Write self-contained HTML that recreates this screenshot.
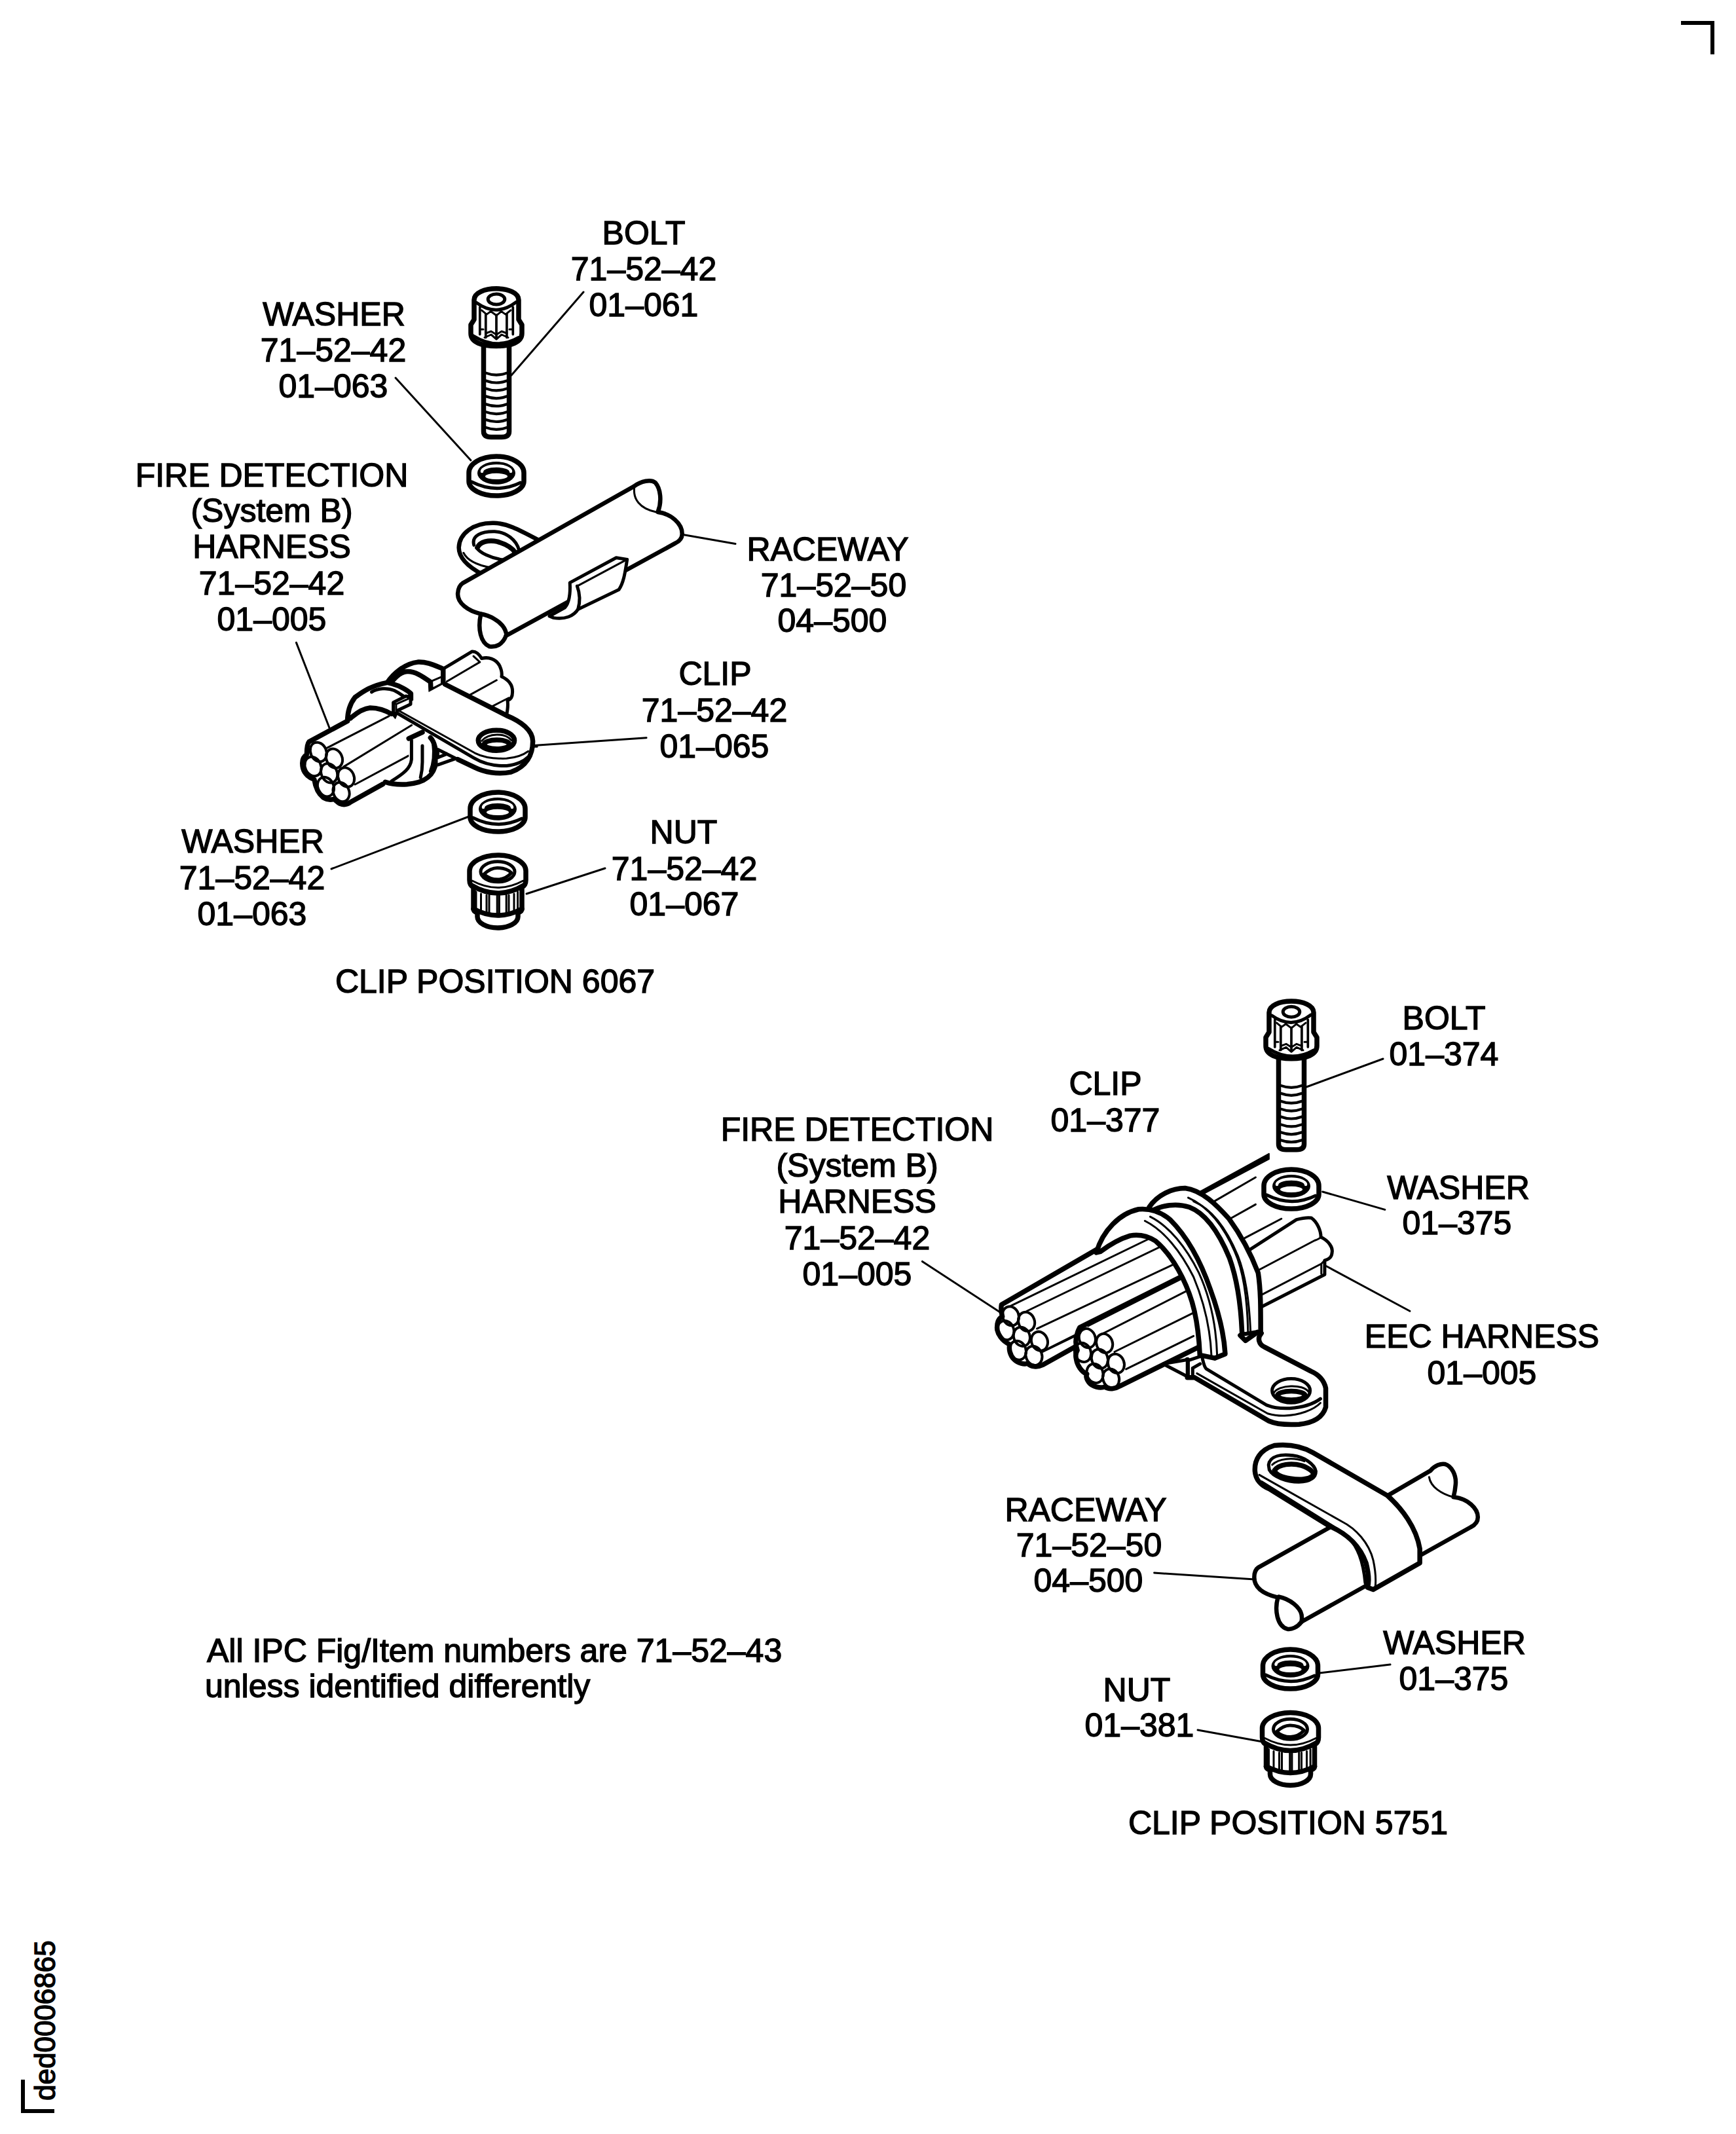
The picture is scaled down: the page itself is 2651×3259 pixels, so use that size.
<!DOCTYPE html>
<html>
<head>
<meta charset="utf-8">
<style>
html,body{margin:0;padding:0;background:#fff;}
body{width:2651px;height:3259px;overflow:hidden;}
svg{display:block;}
text{font-family:"Liberation Sans",sans-serif;font-size:50px;fill:#000;stroke:#000;stroke-width:1.4px;}
.c{text-anchor:middle;}
.d path,.d ellipse,.d line,.d polyline{fill:none;stroke:#000;stroke-linejoin:round;stroke-linecap:round;vector-effect:non-scaling-stroke;stroke-width:4px;}
.d .f{fill:#fff;}
.d .b{fill:#000;}
.d .t{stroke-width:3px;}
.d .m{stroke-width:5px;}
.d .h{stroke-width:7.5px;}
.d .r{stroke-width:6.5px;}
</style>
</head>
<body>
<svg class="d" width="2651" height="3259" viewBox="0 0 2651 3259">
<defs>
<g id="bolt">
 <path class="f h" d="M-19.5 88 V222 Q-19.5 230.5 -8 230.5 H8 Q19.5 230.5 19.5 222 V88"/>
 <path style="stroke-width:4.2px" d="M-16 132.6 Q0 138.6 16 132.6 M-16 144.5 Q0 150.5 16 144.5 M-16 156.4 Q0 162.4 16 156.4 M-16 168.3 Q0 174.3 16 168.3 M-16 180.2 Q0 186.2 16 180.2 M-16 192.1 Q0 198.1 16 192.1 M-16 204 Q0 210 16 204 M-16 215.9 Q0 221.9 16 215.9"/>
 <path class="f h" d="M-34 51 V21 C-34 10 -18 3.8 0 3.8 C18 3.8 34 10 34 21 V51 L39 59 V72 C39 86 22 91.5 0 91.5 C-22 91.5 -39 86 -39 72 V59 Z"/>
 <path class="m" d="M-30 25.5 Q0 47.4 30 24.5"/>
 <ellipse class="m" cx="0" cy="20" rx="12.8" ry="8"/>
 <path style="stroke-width:3.7px" d="M-25.2 32 V73.6 M25.3 32 V73.6 M-16.2 42.5 V78.3 M15.9 42.5 V78.3 M0 44 V78"/>
 <path class="t" d="M-22.4 36.8 L-14.9 43.1 L-8.5 38.5 L0 44.8 L7.6 38.5 L14 43.1 L22 36.8"/>
 <path class="t" d="M-16 72 L-8 69 L0 74 L8 69 L16 72 M-18 78.5 L-8 74 L0 81 L8 74 L18 78.5"/>
 <path class="t" d="M-25 66 H-20 M25 66 H20"/>
 <path class="m" d="M-35 76 Q0 98 34 78.5"/>
</g>
<g id="wsh">
 <path class="f h" d="M-42 29 A42 25 0 0 1 42 29 V42 A42 22 0 0 1 -42 42 Z"/>
 <ellipse class="b" style="stroke:none" cx="0" cy="29.4" rx="29" ry="17.4"/>
 <path style="stroke:#fff;stroke-width:4.5px" d="M-22 27 A22 8.5 0 0 1 22 27"/>
 <ellipse style="fill:#fff;stroke:none" cx="0" cy="34.4" rx="17" ry="4.6"/>
 <path class="m" d="M-38 42.8 Q0 62 37 44"/>
</g>
<g id="nut">
 <path class="f h" d="M-43 28 A43 24 0 0 1 43 28 V42 Q43 50 37 53 V86 Q37 90 31 92 V98 A31 17 0 0 1 -31 98 V92 Q-37 90 -37 86 V53 Q-43 50 -43 42 Z"/>
 <ellipse class="m" cx="0" cy="29.3" rx="26" ry="15.5"/>
 <path class="m" d="M-21 33 Q-10 23 0 23.5 Q14 24 21 31 Q12 41 0 41 Q-12 41 -21 33 Z"/>
 <path class="t" d="M-39 43 Q0 64 39 43"/>
 <path class="h" d="M-40 50 Q0 74 40 50"/>
 <path class="t" d="M-33 60 V86 M-25.5 63 V90 M-17 65 V92 M-13 65 V93 M-0.8 66 V94 M2.4 66 V94 M13.2 65 V93 M17 65 V92 M25 63 V90 M30.6 60 V86"/>
 <path class="h" d="M-37 86 Q0 106 37 86"/>
</g>
</defs>
<!-- corner marks -->
<path style="fill:#000;stroke:none" d="M2567 32H2618V83H2612V38H2567Z"/>
<path style="fill:#000;stroke:none" d="M32 3176H38V3221H83V3227H32Z"/>
<text transform="translate(84 3208) rotate(-90)" style="font-size:44px">ded0006865</text>

<!-- ===== UPPER TEXT ===== -->
<g class="c">
<text x="983" y="373">BOLT</text>
<text x="983" y="428">71–52–42</text>
<text x="983" y="483">01–061</text>

<text x="510" y="497">WASHER</text>
<text x="509" y="552">71–52–42</text>
<text x="509" y="607">01–063</text>

<text x="415" y="743">FIRE DETECTION</text>
<text x="415" y="797">(System B)</text>
<text x="415" y="852">HARNESS</text>
<text x="415" y="908">71–52–42</text>
<text x="415" y="963">01–005</text>

<text x="1264" y="856">RACEWAY</text>
<text x="1273" y="911">71–52–50</text>
<text x="1271" y="965">04–500</text>

<text x="1092" y="1046">CLIP</text>
<text x="1091" y="1102">71–52–42</text>
<text x="1091" y="1157">01–065</text>

<text x="386" y="1302">WASHER</text>
<text x="385" y="1358">71–52–42</text>
<text x="385" y="1413">01–063</text>

<text x="1044" y="1288">NUT</text>
<text x="1045" y="1344">71–52–42</text>
<text x="1045" y="1398">01–067</text>

<text x="756" y="1516">CLIP POSITION 6067</text>
</g>

<!-- ===== LOWER TEXT ===== -->
<g class="c">
<text x="2205" y="1572">BOLT</text>
<text x="2205" y="1627">01–374</text>

<text x="1688" y="1672">CLIP</text>
<text x="1688" y="1728">01–377</text>

<text x="1309" y="1742">FIRE DETECTION</text>
<text x="1309" y="1797">(System B)</text>
<text x="1309" y="1852">HARNESS</text>
<text x="1309" y="1908">71–52–42</text>
<text x="1309" y="1963">01–005</text>

<text x="2227" y="1831">WASHER</text>
<text x="2225" y="1885">01–375</text>

<text x="2263" y="2058">EEC HARNESS</text>
<text x="2263" y="2114">01–005</text>

<text x="1658" y="2323">RACEWAY</text>
<text x="1663" y="2377">71–52–50</text>
<text x="1662" y="2431">04–500</text>

<text x="2221" y="2526">WASHER</text>
<text x="2220" y="2581">01–375</text>

<text x="1736" y="2598">NUT</text>
<text x="1740" y="2652">01–381</text>

<text x="1967" y="2801">CLIP POSITION 5751</text>
</g>

<text x="316" y="2538">All IPC Fig/Item numbers are 71–52–43</text>
<text x="313" y="2592">unless identified differently</text>

<!-- DRAWINGS -->
<g id="drawings" class="d">

<!-- upper leader lines -->
<path class="t" d="M604 577 L719 703"/>
<path class="t" d="M891 446 L781 573"/>
<!-- upper raceway (frame 680,680 /3.774) -->
<g transform="translate(680 680) scale(0.264971)">
 <path class="f r" d="M540 548 C430 490 360 450 280 448 C160 445 80 510 78 590 C78 650 130 700 215 745 L560 560 Z"/>
 <path class="t" d="M105 620 C125 660 180 690 260 705"/>
 <path class="m" d="M165 575 C150 520 210 495 285 497 C350 500 410 545 425 605"/>
 <path class="h" d="M185 590 C200 555 250 545 300 555 C350 570 385 590 405 620"/>
 <path class="m" d="M180 590 C200 620 260 650 330 660 C360 660 385 650 405 640"/>
 <path class="f r" d="M100 795 L1085 238 C1130 205 1185 195 1210 215 C1240 250 1250 320 1225 385 C1300 395 1365 450 1365 510 C1365 540 1345 555 1325 565 L350 1098 C330 1150 290 1165 255 1160 C205 1140 185 1060 205 972 C130 955 70 910 72 855 C74 820 85 805 100 795 Z"/>
 <path class="t" d="M1090 240 C1080 310 1120 365 1215 385"/>
 <path class="r" d="M205 972 C250 980 320 1010 345 1065 C355 1090 352 1098 350 1098"/>
 <path class="f m" d="M718 792 L985 648 L1048 658 C1038 720 1030 790 1000 832 L765 945 C740 985 690 1005 625 995 L600 985 L690 935 C715 905 722 860 718 792 Z"/>
 <path class="t" d="M760 812 L1040 662"/>
 <path class="m" d="M760 812 C778 860 778 900 765 945"/>
 <path class="t" d="M1370 515 L1672 568"/>
</g>
<!-- upper clip + harness -->
<g transform="translate(580 980) scale(0.138249)">
 <path class="f m" d="M700 300 L1020 108 C1060 105 1100 140 1125 185 C1200 165 1280 190 1320 260 C1345 310 1350 360 1345 385 C1420 420 1470 480 1465 560 C1465 610 1445 640 1410 650 C1420 700 1410 760 1400 810 L700 470 Z"/>
 <path class="t" d="M740 440 L1105 225 L1035 160 M1000 585 L1290 425 M1240 715 L1425 620"/>
 <path class="f h" d="M80 455 C150 350 280 240 420 225 C520 220 600 260 700 300 L700 475 L565 545 L560 445 C480 390 400 330 310 330 C240 330 180 380 120 460 Z"/>
 <path class="t" d="M560 440 L700 380 M565 440 V545 M310 320 C400 325 470 370 560 440"/>
</g>
<g transform="translate(450 990) scale(0.115207)">
 <path class="t" d="M21 -75 L470 1080"/>
 <path class="f h" d="M700 965 C700 850 730 740 800 650 C900 580 1000 500 1230 455 L1290 470 C1400 500 1500 560 1540 600 L1540 720 L1330 830 L1300 880 C1200 820 1100 790 1000 790 C900 800 820 860 760 910 Z"/>
 <path class="m" d="M1020 580 C1100 530 1230 520 1320 560 C1380 590 1420 620 1450 640 M1310 720 V890 M1330 720 L1540 620 M1360 820 L1540 720"/>
</g>
<g transform="translate(580 980) scale(0.138249)">
 <path class="f" style="stroke:none" d="M200 740 L700 470 L1400 815 C1560 880 1690 980 1690 1100 C1690 1250 1620 1380 1450 1440 C1300 1470 1150 1440 1050 1390 L195 770 Z"/>
 <path class="h" d="M720 470 L1400 815 C1560 880 1690 980 1690 1100 C1690 1250 1620 1380 1450 1440 C1300 1470 1150 1440 1050 1390 L860 1300"/>
 <path class="t" d="M190 750 L1050 1230 C1150 1280 1250 1295 1400 1290 C1520 1280 1600 1240 1640 1210"/>
 <path class="m" d="M185 785 L1040 1285 C1150 1350 1280 1375 1400 1370 C1520 1360 1600 1310 1630 1280"/>
 <ellipse class="h" cx="1287" cy="1090" rx="200" ry="112"/>
 <path class="t" d="M1125 1095 C1200 1010 1380 1000 1455 1090"/>
 <ellipse class="h" cx="1292" cy="1135" rx="140" ry="50"/>
 <path class="f m" d="M150 670 L290 600 L340 620 V690 L195 760 L160 840 L150 830 Z"/>
 <path class="t" d="M150 670 L180 690 L340 620 M180 690 V760"/>
</g>
<g transform="translate(450 990) scale(0.115207)">
 <path class="f" style="stroke:none" d="M190 1240 L700 965 L1300 900 L1530 1180 L1510 1430 L1170 1800 L740 2040 C700 2070 650 2080 600 2060 C560 2040 540 2010 520 2000 C480 2010 430 2010 380 1980 C330 1940 280 1880 260 1740 C200 1720 130 1670 110 1590 C90 1500 110 1440 160 1410 C160 1330 170 1260 190 1240 Z"/>
 <path class="h" d="M700 965 L190 1240 C170 1260 160 1330 160 1410 C110 1440 90 1500 110 1590 C130 1670 200 1720 260 1740 C280 1880 330 1940 380 1980 C430 2010 480 2010 520 2000 C540 2010 560 2040 600 2060 C650 2080 700 2070 740 2040 L1170 1800"/>
 <path class="t" d="M430 1320 L1250 900 M650 1570 L1550 1020 M800 1805 L1510 1425"/>
 <ellipse style="stroke-width:4px" cx="315" cy="1375" rx="104" ry="132" transform="rotate(-24 315 1375)"/>
 <ellipse style="stroke-width:4px" cx="525" cy="1460" rx="104" ry="132" transform="rotate(-24 525 1460)"/>
 <ellipse style="stroke-width:4px" cx="243" cy="1567" rx="104" ry="132" transform="rotate(-24 243 1567)"/>
 <ellipse style="stroke-width:4px" cx="457" cy="1655" rx="104" ry="132" transform="rotate(-24 457 1655)"/>
 <ellipse style="stroke-width:4px" cx="682" cy="1710" rx="104" ry="132" transform="rotate(-24 682 1710)"/>
 <ellipse style="stroke-width:4px" cx="412" cy="1837" rx="104" ry="132" transform="rotate(-24 412 1837)"/>
 <ellipse style="stroke-width:4px" cx="617" cy="1905" rx="104" ry="132" transform="rotate(-24 617 1905)"/>
</g>
<g transform="translate(580 980) scale(0.138249)">
 <path class="f" style="stroke:none" d="M320 1070 L470 1000 L560 1060 C600 1100 630 1200 620 1330 C600 1480 500 1560 300 1570 C220 1570 170 1560 140 1550 L320 1420 Z"/>
 <path class="h" d="M60 1550 C130 1575 200 1580 300 1575 C500 1560 600 1480 620 1330 C630 1200 600 1100 560 1060"/>
 <path class="h" d="M320 1070 L470 1000"/>
 <path class="m" d="M350 1090 V1300 C340 1400 260 1460 130 1540 M470 1150 V1330 C470 1400 460 1460 450 1500 M590 1120 C600 1200 600 1330 560 1430"/>
 <path class="f" style="stroke:none" d="M640 1190 L860 1310 L640 1360 Z"/>
 <path class="m" d="M640 1190 L860 1300 M640 1190 V1280 L740 1240 M640 1360 L840 1290"/>
 <path class="t" d="M1700 1160 L1736 1160"/>
</g>
<g transform="translate(440 960) scale(0.224669)">
 <path class="t" d="M1670 795 L2435 742"/>
</g>
<!-- lower leaders upper assembly -->
<path class="t" d="M506 1327 L716 1247"/>
<path class="t" d="M924 1326 L804 1365"/>
<use href="#bolt" transform="translate(758 437)"/>
<use href="#wsh" transform="translate(758 693)"/>
<use href="#wsh" transform="translate(760 1206)"/>
<use href="#nut" transform="translate(760 1302)"/>

<!-- ===== LOWER ASSEMBLY ===== -->
<path class="t" d="M1995 1660 L2112 1617"/>
<path class="t" d="M1762.6 2402 L1916 2412"/>
<path class="t" d="M2015 2555 L2123 2542"/>
<path class="t" d="M1829 2642 L1928 2660"/>
<g transform="translate(1500 1750) scale(0.322581)">
 <path class="t" d="M-284 547 L88 790 M1628 569 L2024 782 M1611 217 L1906 302"/>
 <!-- back wires / EEC ends -->
 <path class="f" style="stroke:none" d="M1031 220 L1357 39 V62 L1420 340 L1240 600 Z"/>
 <path class="b" style="stroke-width:2px" d="M1031.3 215.7 L1357.4 36.9 L1357.4 62.4 L1039.1 231.4 Z"/>
 <path class="t" d="M1090 267 L1294 149 M1173 345 L1294 277 M1243 436 L1416 345"/>
 <path class="f m" d="M1267 491 L1487 349 C1510 343 1540 338 1558 341 C1585 360 1603 400 1603 432 C1640 450 1660 480 1656 503 C1655 525 1645 535 1621 542 V609 L1322 762 L1240 600 Z"/>
 <path class="t" d="M1306 589 L1573 448 C1590 442 1598 438 1603 432 M1318 707 L1605 558 V605 M1605 558 L1621 542"/>
 <!-- back band -->
 <path class="f h" d="M790 290 C830 230 900 200 960 200 C1040 210 1110 280 1168 345 C1230 430 1275 520 1306 601 C1318 680 1318 760 1318 880 L1230 895 C1225 760 1210 640 1170 530 C1120 410 1060 320 980 290 C920 270 850 280 800 310 Z"/>
 <path class="t" d="M1000 262 C1090 300 1160 400 1210 520 C1250 620 1265 760 1270 880"/>
 <path class="t" d="M975 245 C1070 285 1145 385 1195 500 C1240 600 1255 740 1258 880"/>
 <!-- bundle A -->
 <path class="f" style="stroke:none" d="M91 752 L553 484 L630 440 L715 419 L1030 900 L456 942 L286 1037 C260 1050 230 1045 215 1030 C200 1035 170 1030 150 1010 C130 990 125 960 130 940 C95 925 70 890 70 860 C70 830 80 815 95 808 C90 790 88 770 91 752 Z"/>
 <path class="h" d="M715 419 L630 440 L553 484 L91 752 C88 770 90 790 95 808 C80 815 70 830 70 860 C70 890 95 925 130 940 C125 960 130 990 150 1010 C170 1030 200 1035 215 1030 C230 1045 260 1050 286 1037 L456 942"/>
 <path class="t" d="M136 757 L830 420 M211 782 L900 450 M259 865 L950 540 M311 960 L480 875 M281 977 L460 890"/>
 <ellipse style="stroke-width:4px" cx="134.5" cy="805.5" rx="38" ry="46" transform="rotate(-20 134.5 805.5)"/>
 <ellipse style="stroke-width:4px" cx="209.5" cy="832" rx="38" ry="46" transform="rotate(-20 209.5 832)"/>
 <ellipse style="stroke-width:4px" cx="111" cy="873" rx="38" ry="46" transform="rotate(-20 111 873)"/>
 <ellipse style="stroke-width:4px" cx="187" cy="903" rx="38" ry="46" transform="rotate(-20 187 903)"/>
 <ellipse style="stroke-width:4px" cx="271" cy="924.5" rx="38" ry="46" transform="rotate(-20 271 924.5)"/>
 <ellipse style="stroke-width:4px" cx="168.5" cy="968" rx="38" ry="46" transform="rotate(-20 168.5 968)"/>
 <ellipse style="stroke-width:4px" cx="244.5" cy="993" rx="38" ry="46" transform="rotate(-20 244.5 993)"/>
 <!-- bundle B -->
 <path class="f h" d="M461 860 L1000 590 L1030 950 L651 1137 C630 1150 600 1155 580 1140 C560 1150 520 1140 505 1120 C490 1100 490 1090 495 1080 C470 1070 450 1040 445 1010 C440 990 445 975 450 968 C440 940 440 900 461 860 Z"/>
 <path class="t" d="M501 852 L1000 600 M574 887 L1000 670 M626 975 L1000 790 M681 1057 L1000 900"/>
 <ellipse style="stroke-width:4px" cx="497" cy="910.5" rx="38" ry="46" transform="rotate(-20 497 910.5)"/>
 <ellipse style="stroke-width:4px" cx="578.5" cy="934.5" rx="38" ry="46" transform="rotate(-20 578.5 934.5)"/>
 <ellipse style="stroke-width:4px" cx="476" cy="978" rx="38" ry="46" transform="rotate(-20 476 978)"/>
 <ellipse style="stroke-width:4px" cx="556" cy="1008" rx="38" ry="46" transform="rotate(-20 556 1008)"/>
 <ellipse style="stroke-width:4px" cx="633.5" cy="1030.5" rx="38" ry="46" transform="rotate(-20 633.5 1030.5)"/>
 <ellipse style="stroke-width:4px" cx="533.5" cy="1077" rx="38" ry="46" transform="rotate(-20 533.5 1077)"/>
 <ellipse style="stroke-width:4px" cx="609.5" cy="1100.5" rx="38" ry="46" transform="rotate(-20 609.5 1100.5)"/>
 <!-- tab -->
 <path class="f" style="stroke:none" d="M971 1012 L1040 1000 L1160 975 L1210 905 L1321 887 C1300 910 1310 940 1336 952 L1556 1067 C1590 1082 1618 1110 1626 1147 L1626 1237 C1615 1275 1580 1310 1500 1318 C1430 1322 1385 1315 1356 1302 L1006 1097 L971 1097 Z"/>
 <path class="h" d="M1321 887 C1300 910 1310 940 1336 952 L1556 1067 C1590 1082 1618 1110 1626 1147 L1626 1237 C1615 1275 1580 1310 1500 1318 C1430 1322 1385 1315 1356 1302 L1006 1097 L971 1097 V1012"/>
 <path class="h" d="M1221 897 L1246 922 L1303 882"/>
 <path class="t" d="M1016 1077 L1351 1267 C1380 1275 1410 1278 1431 1277 C1500 1275 1570 1250 1601 1217"/>
 <path class="m" d="M1041 1002 C1048 1030 1050 1045 1060 1055 L1346 1227 C1380 1240 1420 1244 1456 1242 C1520 1238 1570 1220 1601 1197"/>
 <ellipse class="m" cx="1462" cy="1159" rx="90" ry="57"/>
 <path class="t" d="M1380 1170 C1400 1130 1520 1125 1545 1165"/>
 <ellipse class="h" cx="1463" cy="1182" rx="66" ry="21"/>
 <path class="f m" d="M856 1032 L971 1012 L971 1092 Z"/>
 <path class="m" d="M971 1017 L1031 997 M996 1052 V1090 M996 1052 L1031 1032"/>
 <!-- front band -->
 <path class="f h" d="M540 505 C570 400 650 320 740 300 C800 295 850 315 890 350 C970 430 1035 550 1080 680 C1120 790 1145 900 1150 985 L1100 1005 L1030 990 C1025 880 1010 780 980 700 C940 590 880 500 820 450 C780 425 740 418 700 425 C650 440 600 470 560 500 Z"/>
 <path class="t" d="M770 355 C860 400 940 500 1000 620 C1050 740 1080 870 1085 995"/>
 <path class="t" d="M795 335 C885 380 965 480 1025 600 C1080 720 1108 860 1112 995"/>
</g>
<!-- lower raceway -->
<g transform="translate(1900 2190) scale(0.218894)">
 <path class="f r" d="M100 930 L600 650 L1000 430 L1300 255 C1330 220 1370 205 1400 210 C1450 225 1480 290 1475 350 C1472 390 1465 420 1460 440 C1560 450 1630 520 1630 580 C1630 620 1600 640 1580 650 L400 1310 C370 1350 330 1365 300 1360 C230 1340 210 1230 235 1140 C150 1120 70 1080 70 1000 C70 960 85 940 100 930 Z"/>
 <path class="t" d="M1290 300 C1300 370 1380 420 1460 440"/>
 <path class="r" d="M240 1135 C320 1150 390 1210 400 1260 C405 1290 402 1300 400 1310"/>
 <path class="f h" d="M1000 430 L480 130 C400 85 300 70 210 80 C110 110 70 180 75 260 C80 320 120 360 170 380 L600 645 C700 690 800 760 850 900 C870 980 870 1040 860 1070 L900 1085 L1225 900 V800 C1200 650 1100 520 1000 430 Z"/>
 <path class="t" d="M105 285 L680 610 C780 660 870 760 900 880 C915 950 920 1010 915 1060"/>
 <path class="m" d="M120 335 L690 690 M730 720 C790 790 830 880 845 1040"/>
 <path class="m" d="M170 215 C180 150 260 140 340 150 C420 160 490 210 500 260 C500 300 470 330 380 335 C300 335 200 300 175 250 Z"/>
 <path class="h" d="M210 255 C240 210 330 200 400 220 C460 240 490 270 480 290 C450 320 380 320 320 310 C260 300 220 280 210 255 Z"/>
 <path class="t" d="M195 215 C240 170 340 160 420 190"/>
</g>
<use href="#bolt" transform="translate(1972 1525.3)"/>
<use href="#wsh" transform="translate(1972 1782)"/>
<use href="#wsh" transform="translate(1970.5 2515)"/>
<use href="#nut" transform="translate(1970.5 2611.5)"/>
</g>
</svg>
</body>
</html>
